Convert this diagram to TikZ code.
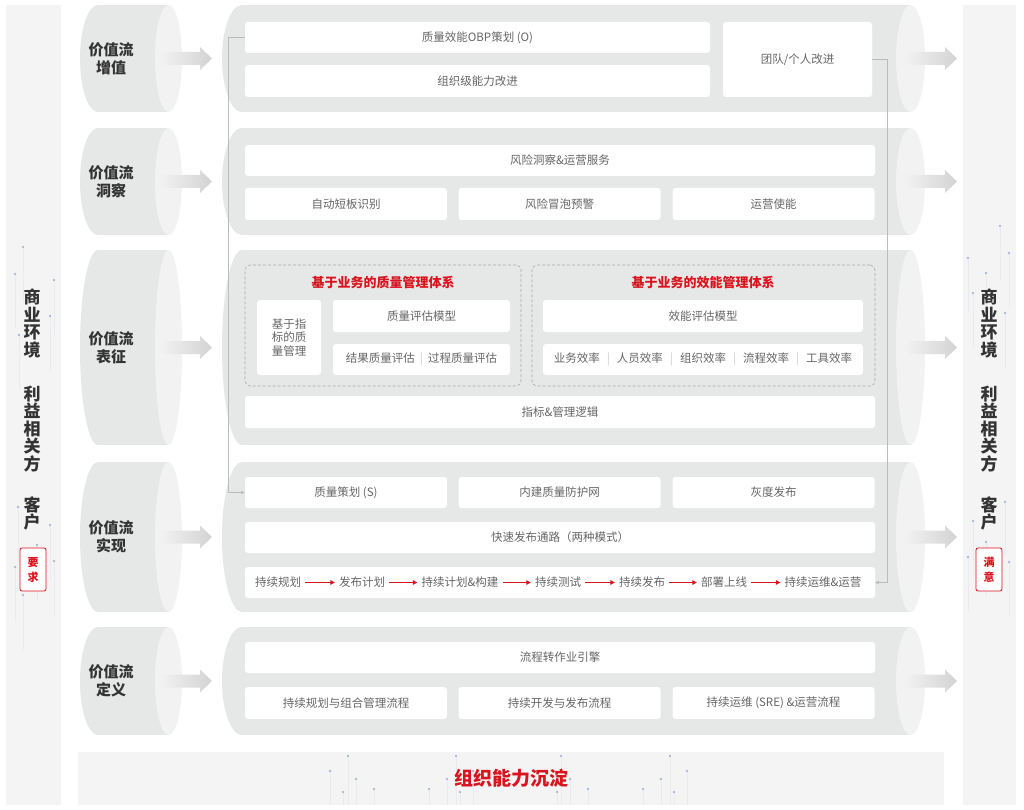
\documentclass[tikz,border=0pt]{standalone}
\usepackage{fontspec}
\setmainfont{Noto Sans CJK SC}
\usetikzlibrary{arrows.meta}

\definecolor{panelgray}{HTML}{F4F4F4}
\definecolor{pipegray}{HTML}{E6E7E7}
\definecolor{facegray}{HTML}{F2F2F2}
\definecolor{arrowgray}{HTML}{D3D3D3}
\definecolor{boxtext}{HTML}{666666}
\definecolor{labeltext}{HTML}{333333}
\definecolor{brandred}{HTML}{D9141E}
\definecolor{linkgray}{HTML}{BBBBBB}
\definecolor{dashgray}{HTML}{ABABAB}
\definecolor{dotblue}{HTML}{B0BAD6}
\definecolor{tracegray}{HTML}{E9EBF0}

\newcommand{\sepbar}[1]{\hspace{#1}{\color{gray!40}|}\hspace{#1}}

\tikzset{
  cell/.style={fill=white, rounded corners=3pt, text=boxtext, inner sep=0pt, align=center,
    font=\fontsize{11.5}{13.5}\selectfont},
  groupframe/.style={draw=dashgray, rounded corners=5pt, line width=0.6pt, dash pattern=on 3pt off 2pt},
  grouptitle/.style={text=brandred, font=\bfseries\fontsize{13}{15}\selectfont},
  stagelabel/.style={text=labeltext, align=center, font=\bfseries\fontsize{15}{18}\selectfont},
  sidetext/.style={text=labeltext, align=center, inner sep=0pt, font=\bfseries\fontsize{17}{17.5}\selectfont},
  needbox/.style={draw=brandred, fill=white, rounded corners=2pt, line width=0.8pt, minimum width=26pt,
    minimum height=43pt, inner sep=0pt, text=brandred, align=center, font=\bfseries\fontsize{11}{15}\selectfont},
  chainitem/.style={text=boxtext, inner xsep=4pt, inner ysep=0pt, font=\fontsize{11.5}{13.5}\selectfont},
  flowred/.style={draw=brandred, line width=0.9pt, -{Triangle[length=4.5pt, width=4.5pt]}},
  link/.style={draw=linkgray, line width=0.7pt, -{Stealth[length=4pt, width=3.5pt]}},
  trace/.style={draw=tracegray, line width=0.4pt},
  flowarrow/.pic={
    \shade[left color=facegray, right color=arrowgray] (0,-6.5) -- (40,-6.5) -- (40,-11.5) -- (52,0)
      -- (40,11.5) -- (40,6.5) -- (0,6.5) -- cycle;
  }
}

\begin{document}
\begin{tikzpicture}[x=1pt, y=-1pt]
  \useasboundingbox (0,0) rectangle (1024,810);
  \fill[white] (0,0) rectangle (1024,810);

  % side panels and bottom band
  \fill[panelgray] (6,5) rectangle (61,805);
  \fill[panelgray] (963,5) rectangle (1016,805);
  \fill[panelgray] (78,752) rectangle (944,805);

  \foreach \x/\y in {348/756, 330/771, 356/779, 343/792, 374/789, 456/756, 447/779, 429/789, 460/792, 473/771,
                     561/756, 570/779, 557/792, 588/789, 643/789, 661/779, 670/756, 687/771, 674/792} {
    \draw[trace] (\x,\y) -- (\x,805);
    \fill[dotblue] (\x,\y) circle[radius=1.3];
  }
  \foreach \x/\y in {23/247, 15/274, 54/280, 50/316, 19/335, 18/507, 50/525, 37/545, 54/561, 15/567, 23/595,
                     1000/226, 968/258, 1009/253, 986/273, 973/293, 1005/313, 1005/502, 973/521, 986/542,
                     968/557, 1009/562} {
    \draw[trace] (\x,\y) -- ++(0,55);
    \fill[dotblue] (\x,\y) circle[radius=1.3];
  }

  % value stream drums and pipes
  \foreach \ya/\yb/\lab [count=\n] in {5/112/增值, 128/235/洞察, 250/445/表征, 462/612/实现, 627/735/定义} {
    \pgfmathsetmacro{\ym}{(\ya+\yb)/2}
    \pgfmathsetmacro{\ry}{(\yb-\ya)/2}
    \fill[pipegray] (98,\ya) rectangle (168.5,\yb);
    \fill[pipegray] (98,\ym) ellipse [x radius=18, y radius=\ry];
    \fill[facegray] (168.5,\ym) ellipse [x radius=13.5, y radius=\ry];
    \node[stagelabel] (stage\n) at (111,\ym) {价值流\\\lab};
    \pic at (160,\ym) {flowarrow};
    \fill[pipegray] (242,\ya) rectangle (910.5,\yb);
    \fill[pipegray] (242,\ym) ellipse [x radius=20, y radius=\ry];
    \fill[facegray] (910.5,\ym) ellipse [x radius=14.5, y radius=\ry];
    \pic at (905,\ym) {flowarrow};
  }

  % row 1
  \node[cell, minimum width=465pt, minimum height=31pt] (obp) at (477.5,37.5) {质量效能OBP策划 (O)};
  \node[cell, minimum width=465pt, minimum height=32pt] (orgimp) at (477.5,81) {组织级能力改进};
  \node[cell, minimum width=149pt, minimum height=75pt] (teamimp) at (797.5,59.5) {团队/个人改进};

  % row 2
  \node[cell, minimum width=630pt, minimum height=31pt] (riskops) at (560,160.5) {风险洞察\&运营服务};
  \node[cell, minimum width=202pt, minimum height=32pt] (shortid) at (346,204) {自动短板识别};
  \node[cell, minimum width=202pt, minimum height=32pt] (bubble) at (559.5,204) {风险冒泡预警};
  \node[cell, minimum width=202pt, minimum height=32pt] (opsen) at (773.5,204) {运营使能};

  % row 3
  \node[groupframe, minimum width=276pt, minimum height=121pt] (qframe) at (383,325.5) {};
  \node[grouptitle] (qtitle) at (383,283) {基于业务的质量管理体系};
  \node[cell, minimum width=64pt, minimum height=75pt] (idxq) at (289,337.5) {基于指\\标的质\\量管理};
  \node[cell, minimum width=177pt, minimum height=32pt] (qmodel) at (421.5,316) {质量评估模型};
  \node[cell, minimum width=177pt, minimum height=31pt] (qeval) at (421.5,359.5) {结果质量评估\sepbar{5pt}过程质量评估};

  \node[groupframe, minimum width=343pt, minimum height=121pt] (eframe) at (703.5,325.5) {};
  \node[grouptitle] (etitle) at (703,283) {基于业务的效能管理体系};
  \node[cell, minimum width=320pt, minimum height=32pt] (emodel) at (703,316) {效能评估模型};
  \node[cell, minimum width=320pt, minimum height=31pt] (eeval) at (703,359.5)
    {业务效率\sepbar{7pt}人员效率\sepbar{7pt}组织效率\sepbar{7pt}流程效率\sepbar{7pt}工具效率};

  \node[cell, minimum width=630pt, minimum height=32pt] (logic) at (560,412) {指标\&管理逻辑};

  % row 4
  \node[cell, minimum width=202pt, minimum height=31pt] (qplan) at (346,492.5) {质量策划 (S)};
  \node[cell, minimum width=202pt, minimum height=31pt] (qnet) at (559.5,492.5) {内建质量防护网};
  \node[cell, minimum width=202pt, minimum height=31pt] (grayrel) at (773.5,492.5) {灰度发布};
  \node[cell, minimum width=630pt, minimum height=31pt] (fastpath) at (560,537.5) {快速发布通路（两种模式）};
  \node[cell, minimum width=630pt, minimum height=31pt] (chainbar) at (560,582.5) {};

  \node[chainitem] (c1) at (278,582.5) {持续规划};
  \node[chainitem] (c2) at (362,582.5) {发布计划};
  \node[chainitem] (c3) at (460,582.5) {持续计划\&构建};
  \node[chainitem] (c4) at (558,582.5) {持续测试};
  \node[chainitem] (c5) at (642,582.5) {持续发布};
  \node[chainitem] (c6) at (724,582.5) {部署上线};
  \node[chainitem] (c7) at (823,582.5) {持续运维\&运营};
  \foreach \a/\b in {c1/c2, c2/c3, c3/c4, c4/c5, c5/c6, c6/c7}
    \draw[flowred] (\a) -- (\b);

  % row 5
  \node[cell, minimum width=630pt, minimum height=31pt] (engine) at (560,657.5) {流程转作业引擎};
  \node[cell, minimum width=202pt, minimum height=32pt] (planflow) at (346,703) {持续规划与组合管理流程};
  \node[cell, minimum width=202pt, minimum height=32pt] (devflow) at (559.5,703) {持续开发与发布流程};
  \node[cell, minimum width=202pt, minimum height=32pt] (opsflow) at (773.5,703) {持续运维 (SRE) \&运营流程};

  % feedback links
  \draw[link] (obp.west) -- ++(-16,0) |- (qplan.west);
  \draw[link] (teamimp.east) -- ++(15,0) |- (chainbar.east);

  % side texts
  \node[sidetext] (envL) at (32,323.5) {商\\业\\环\\境};
  \node[sidetext] (stakeL) at (32,429) {利\\益\\相\\关\\方};
  \node[sidetext] (custL) at (32,513.5) {客\\户};
  \node[needbox] (reqL) at (33,569.5) {要\\求};

  \node[sidetext] (envR) at (989,323.5) {商\\业\\环\\境};
  \node[sidetext] (stakeR) at (989,429) {利\\益\\相\\关\\方};
  \node[sidetext] (custR) at (989,513.5) {客\\户};
  \node[needbox] (satR) at (989,569.5) {满\\意};

  \node[text=brandred, font=\bfseries\fontsize{19}{22}\selectfont] (orgcap) at (511,778) {组织能力沉淀};
\end{tikzpicture}
\end{document}
